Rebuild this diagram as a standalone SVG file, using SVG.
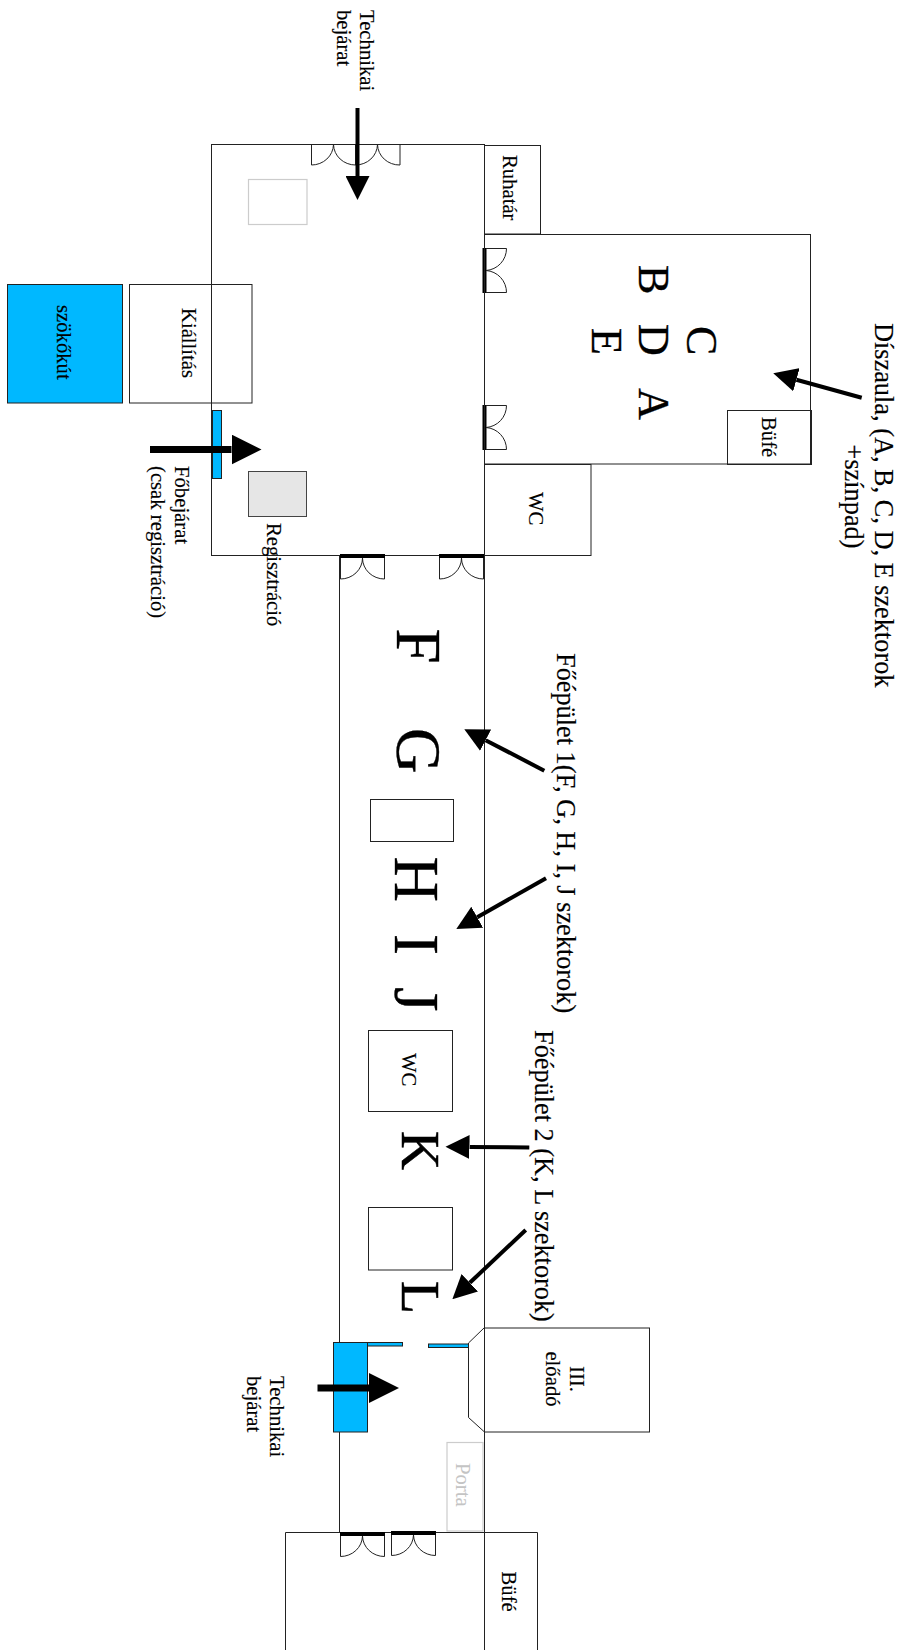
<svg xmlns="http://www.w3.org/2000/svg" width="901" height="1650" viewBox="0 0 901 1650">
<style>
text{font-family:"Liberation Serif","Times New Roman",serif;fill:#000}
.t21{font-size:20.7px;stroke:#000;stroke-width:.15}
.t26{font-size:26.3px;stroke:#000;stroke-width:.15}
.b44{font-size:44px;stroke:#000;stroke-width:.35}
.b63{font-size:63px;stroke:#000;stroke-width:.35}
.b54{font-size:54px;stroke:#000;stroke-width:.5}
.c{text-anchor:middle}
.room{fill:none;stroke:#222;stroke-width:1}
.pale{fill:none;stroke:#ccc;stroke-width:1.2}
.blue{fill:#00b8ff;stroke:#222;stroke-width:1}
.door{fill:none;stroke:#222;stroke-width:1}
.bar{fill:#000}
.arr{stroke:#000;fill:none}
.s4{stroke-width:4}
.s7{stroke-width:7}
</style>
<defs>
<marker id="hs" markerUnits="userSpaceOnUse" orient="auto" markerWidth="24" markerHeight="24" refX="0" refY="12" viewBox="0 0 24 24"><path d="M0 0L24 12L0 24Z" fill="#000"/></marker>
<marker id="hb" markerUnits="userSpaceOnUse" orient="auto" markerWidth="30" markerHeight="30" refX="0" refY="15" viewBox="0 0 30 30"><path d="M0 0L30 15L0 30Z" fill="#000"/></marker>
</defs>

<g id="nagyterem">
<rect class="room" x="211.5" y="144.5" width="273" height="411"/>
<rect class="pale" x="248.5" y="179.5" width="58.5" height="45"/>
<g id="doors-top"><path class="door" d="M311.5 144.5V165A22 21 0 0 0 333.5 144.5A22 21 0 0 0 355.5 165V144.5M355.5 165A22 21 0 0 0 377.5 144.5A22 21 0 0 0 400 165V144.5"/></g>
<g id="doors-right">
<rect class="bar" x="482.5" y="248" width="4" height="45"/><path class="door" d="M486 248.5H506.5A22 22 0 0 1 486 270.5A22 22 0 0 1 506.5 292.5H486"/>
<rect class="bar" x="482.5" y="405" width="4" height="45"/><path class="door" d="M486 405.5H506.5A22 22 0 0 1 486 427.5A22 22 0 0 1 506.5 449.5H486"/>
</g>
</g>

<g id="ruhatar"><rect class="room" x="484.5" y="145.5" width="56" height="88.5"/><text class="t21" transform="translate(503 155) rotate(90)">Ruhatár</text></g>

<g id="diszaula"><rect class="room" x="484.5" y="234.5" width="326" height="229.5"/>
<text class="b44" transform="translate(639 265) rotate(90)">B</text>
<text class="b44" transform="translate(639 324) rotate(90)">D</text>
<text class="b44" transform="translate(639 388) rotate(90)">A</text>
<text class="b44" transform="translate(686.5 326) rotate(90)">C</text>
<text class="b44" transform="translate(591.5 328) rotate(90)">E</text>
</g>
<g id="bufe-aula"><rect class="room" x="727.5" y="410.5" width="84" height="54"/><text class="t21" transform="translate(761.5 417) rotate(90)">Büfé</text></g>
<g id="wc-1"><rect class="room" x="484.5" y="464.5" width="106.5" height="91"/><text class="t21" transform="translate(528.5 492) rotate(90)">WC</text></g>

<g id="kiallitas"><rect class="room" x="129.5" y="284.5" width="122.5" height="118.5"/><text class="t21" transform="translate(182 308) rotate(90)">Kiállítás</text></g>
<g id="szokokut"><rect class="blue" x="7.5" y="284.5" width="115" height="118.5"/><text class="t21" transform="translate(56.5 305) rotate(90)">szökőkút</text></g>
<g id="fobejarat"><rect class="blue" x="212.5" y="410.5" width="9" height="68"/>
<text class="t21" transform="translate(175 466) rotate(90)">Főbejárat</text>
<text class="t21" transform="translate(151 466) rotate(90)">(csak regisztráció)</text></g>
<g id="regisztracio"><rect x="248.5" y="471.5" width="58" height="45" fill="#e6e6e6" stroke="#444"/><text class="t21" transform="translate(266.5 523) rotate(90)">Regisztráció</text></g>

<g id="foepulet">
<path class="room" d="M339.5 555.5V1532.5M484.5 555.5V1532.5"/>
<rect class="bar" x="340" y="554" width="45" height="4"/><path class="door" d="M340.5 558V579A22 21 0 0 0 362.5 558A22 21 0 0 0 384.5 579V558"/>
<rect class="bar" x="439" y="554" width="45" height="4"/><path class="door" d="M439.5 558V579A22 21 0 0 0 461.5 558A22 21 0 0 0 483.5 579V558"/>
<text class="b63" transform="translate(397 628.5) rotate(90)">F</text>
<text class="b63" transform="translate(397 728) rotate(90)">G</text>
<text class="b63" transform="translate(395 856.5) rotate(90)">H</text>
<text class="b63" transform="translate(395 934) rotate(90)">I</text>
<text class="b63" transform="translate(395 987) rotate(90)">J</text>
<text class="b54" transform="translate(402 1131) rotate(90)">K</text>
<text class="b54" transform="translate(402 1281) rotate(90)">L</text>
<rect class="room" x="370.5" y="799.5" width="83" height="42"/>
<rect class="room" x="368.5" y="1030.5" width="84" height="81"/><text class="t21" transform="translate(401.5 1053) rotate(90)">WC</text>
<rect class="room" x="368.5" y="1207.5" width="84" height="62.5"/>
</g>

<g id="eloado"><rect class="room" x="484.5" y="1328" width="165" height="104"/><path class="room" d="M484.5 1327.5L468.5 1343V1417.5L484.5 1432"/>
<text class="t21 c" transform="translate(570 1379) rotate(90)">III.</text>
<text class="t21 c" transform="translate(546 1379) rotate(90)">előadó</text></g>

<g id="technikai-2"><rect class="blue" x="333.5" y="1342.5" width="34" height="89.5"/><rect class="blue" x="367.5" y="1342.5" width="35" height="3.5"/><rect class="blue" x="428.5" y="1344" width="40" height="3.5"/>
<text class="t21" transform="translate(270 1376) rotate(90)">Technikai</text>
<text class="t21" transform="translate(246.5 1376) rotate(90)">bejárat</text></g>

<g id="porta"><rect class="pale" x="447" y="1442.5" width="36" height="88.5"/><text class="t21" style="fill:#c4c4c4;stroke:none" transform="translate(456 1463) rotate(90)">Porta</text></g>

<g id="bufe-also"><path class="room" d="M285.5 1650V1532.5H537.5V1650M484.5 1532.5V1650"/>
<rect class="bar" x="340" y="1532" width="45" height="4"/><path class="door" d="M340.5 1536V1556.5A22 21 0 0 0 362.5 1536A22 21 0 0 0 384.5 1556.5V1536"/>
<rect class="bar" x="391" y="1531" width="45" height="4"/><path class="door" d="M391.5 1535V1555.5A22 21 0 0 0 413.5 1535A22 21 0 0 0 435.5 1555.5V1535"/>
<text class="t21" transform="translate(501.5 1571.5) rotate(90)">Büfé</text></g>

<g id="labels">
<text class="t21" transform="translate(360 10) rotate(90)">Technikai</text>
<text class="t21" transform="translate(337 10) rotate(90)">bejárat</text>
<text class="t26" transform="translate(875 323) rotate(90)">Díszaula, (A, B, C, D, E szektorok</text>
<text class="t26 c" transform="translate(845 496.5) rotate(90)">+színpad)</text>
<text class="t26" transform="translate(556.5 653) rotate(90)">Főépület 1(F, G, H, I, J szektorok)</text>
<text class="t26" transform="translate(534.5 1030) rotate(90)">Főépület 2 (K, L szektorok)</text>
</g>

<g id="connectors">
<line class="arr s4" x1="357.5" y1="108" x2="357.5" y2="176" marker-end="url(#hs)"/>
<line class="arr s7" x1="150" y1="449.5" x2="231.5" y2="449.5" marker-end="url(#hb)"/>
<line class="arr s7" x1="317.5" y1="1388" x2="369" y2="1388" marker-end="url(#hb)"/>
<line class="arr s4" x1="544.3" y1="770.7" x2="485.6" y2="740.2" marker-end="url(#hs)"/>
<line class="arr s4" x1="546" y1="878.3" x2="477.2" y2="917.2" marker-end="url(#hs)"/>
<line class="arr s4" x1="529.3" y1="1147.5" x2="469.5" y2="1147" marker-end="url(#hs)"/>
<line class="arr s4" x1="525.7" y1="1230" x2="469.8" y2="1282.8" marker-end="url(#hs)"/>
<line class="arr s4" x1="861.7" y1="397.7" x2="796.4" y2="379.7" marker-end="url(#hs)"/>
</g>
</svg>
